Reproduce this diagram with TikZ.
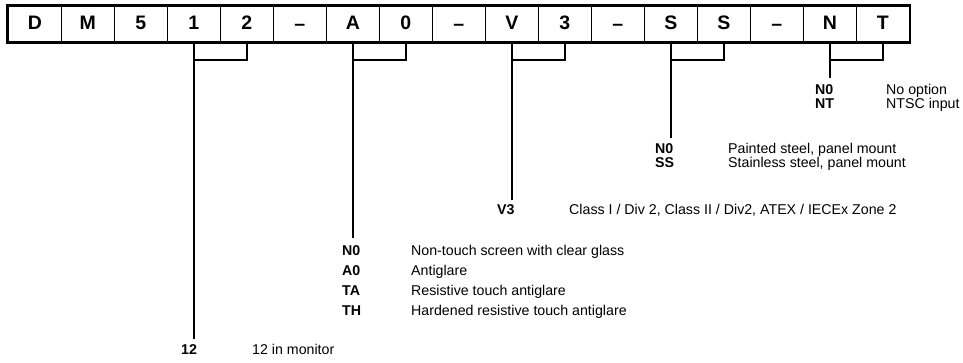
\documentclass[tikz,border=0pt]{standalone}
\usepackage{fontspec}
\setmainfont{Liberation Sans}
\newcommand{\dsh}{\raisebox{-0.5pt}{–}}
\begin{document}
\begin{tikzpicture}[x=1pt,y=-1pt,
  cell/.style={draw,line width=1.6pt,minimum width=53pt,minimum height=36pt,inner sep=0pt,text height=12pt,text depth=0pt,anchor=north west,font=\bfseries\fontsize{19.5}{19.5}\selectfont},
  code/.style={anchor=base west,inner sep=0pt,font=\bfseries\fontsize{14.2}{14.2}\selectfont},
  desc/.style={anchor=base west,inner sep=0pt,font=\fontsize{14.2}{14.2}\selectfont},
  link/.style={line width=1.6pt}]
\useasboundingbox (0,0) rectangle (963,363);
\foreach \t [count=\i] in {D,M,5,1,2,\dsh,A,0,\dsh,V,3,\dsh,S,S,\dsh,N,T}{
  \node[cell] (c\i) at ({7.5+53*(\i-1)},5) {\t};
}
\draw[line width=2.2pt] (c1.north west) rectangle (c17.south east);
% group 12
\node[code] (k12) at (181,354) {12};
\node[desc] (d12) at (252,354) {12 in monitor};
\coordinate (e12) at (c4.south |- 0,339);
\coordinate (j12) at (c4.south |- 0,60);
\draw[link] (c4.south) -- (e12);
\draw[link] (c5.south) |- (j12);
% group A0
\node[code] (kN0a) at (342,255) {N0};
\node[desc] (dN0a) at (411,255) {Non-touch screen with clear glass};
\node[code] (kA0) at (342,275) {A0};
\node[desc] (dA0) at (411,275) {Antiglare};
\node[code] (kTA) at (342,295) {TA};
\node[desc] (dTA) at (411,295) {Resistive touch antiglare};
\node[code] (kTH) at (342,315) {TH};
\node[desc] (dTH) at (411,315) {Hardened resistive touch antiglare};
\coordinate (eA) at (c7.south |- 0,238);
\coordinate (jA) at (c7.south |- 0,60);
\draw[link] (c7.south) -- (eA);
\draw[link] (c8.south) |- (jA);
% group V3
\node[code] (kV3) at (497,215) {V3};
\node[desc] (dV3) at (569,215) {Class I / Div 2, Class II / Div2, ATEX / IECEx Zone 2};
\coordinate (eV) at (c10.south |- 0,200);
\coordinate (jV) at (c10.south |- 0,60);
\draw[link] (c10.south) -- (eV);
\draw[link] (c11.south) |- (jV);
% group SS
\node[code] (kN0s) at (655,154) {N0};
\node[desc] (dN0s) at (728,154) {Painted steel, panel mount};
\node[code] (kSS) at (655,168) {SS};
\node[desc] (dSS) at (728,168) {Stainless steel, panel mount};
\coordinate (eS) at (c13.south |- 0,138);
\coordinate (jS) at (c13.south |- 0,60);
\draw[link] (c13.south) -- (eS);
\draw[link] (c14.south) |- (jS);
% group NT
\node[code] (kN0n) at (815,95) {N0};
\node[desc] (dN0n) at (886,95) {No option};
\node[code] (kNT) at (815,109) {NT};
\node[desc] (dNT) at (886,109) {NTSC input};
\coordinate (eN) at (c16.south |- 0,78);
\coordinate (jN) at (c16.south |- 0,60);
\draw[link] (c16.south) -- (eN);
\draw[link] (c17.south) |- (jN);
\end{tikzpicture}
\end{document}
